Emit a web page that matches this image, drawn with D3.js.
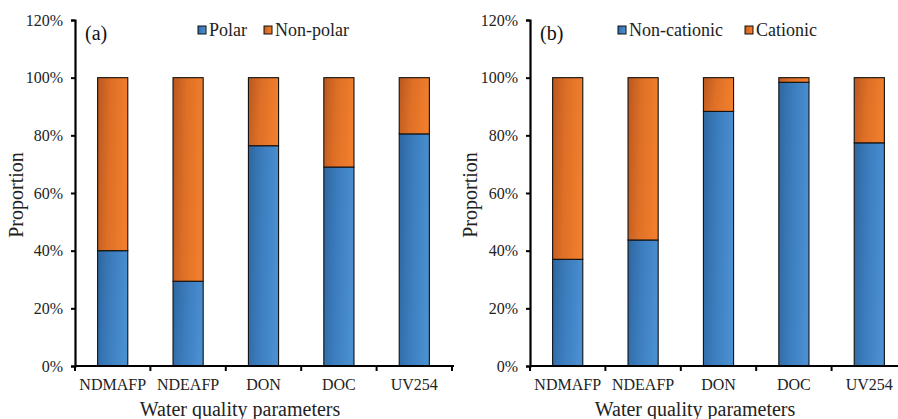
<!DOCTYPE html>
<html>
<head>
<meta charset="utf-8">
<script src="https://cdn.jsdelivr.net/npm/d3@7"></script>
<style>
  html, body { margin: 0; padding: 0; background: #fff; overflow: hidden; }
  svg text { font-family: 'Liberation Serif', 'Times New Roman', Times, 'DejaVu Serif', serif; }
</style>
</head>
<body>
<svg id="chart" width="898" height="419"></svg>
<script>
// Categories shared by both panels
const categories = ["NDMAFP", "NDEAFP", "DON", "DOC", "UV254"];

// Panel (a): polar fraction (non-polar is the remainder to 100%)
const polar = [0.40, 0.294, 0.764, 0.69, 0.805];
// Panel (b): non-cationic fraction (cationic is the remainder)
const nonCationic = [0.37, 0.437, 0.883, 0.984, 0.774];

const yTicks = [0, 0.2, 0.4, 0.6, 0.8, 1.0, 1.2];

const panels = [
  { tag: "(a)", left: 75, series: ["Polar", "Non-polar"], values: polar,
    legendX: [198, 264], titleX: 15.5 },
  { tag: "(b)", left: 530, series: ["Non-cationic", "Cationic"], values: nonCationic,
    legendX: [618, 745], titleX: 470 }
];

const svg = d3.select("#chart");
const defs = svg.append("defs");

function gradient(id, c0, c1, c2) {
  const g = defs.append("linearGradient").attr("id", id)
    .attr("x1", 0).attr("y1", 0).attr("x2", 1).attr("y2", 0.15);
  g.append("stop").attr("offset", 0).attr("stop-color", c0);
  g.append("stop").attr("offset", 0.45).attr("stop-color", c1);
  g.append("stop").attr("offset", 1).attr("stop-color", c2);
}
gradient("gBlue", "#2e669f", "#3b7cbd", "#4a8fd0");
gradient("gOrange", "#b9581f", "#de6f26", "#f07e2c");
const fills = ["url(#gBlue)", "url(#gOrange)"];

const plotW = 377, plotTop = 20, plotBottom = 366;
const y = d3.scaleLinear().domain([0, 1.2]).range([plotBottom, plotTop]);

panels.forEach(p => {
  const g = svg.append("g").attr("transform", `translate(${p.left},0)`);
  const x = d3.scaleBand().domain(categories).range([0, plotW])
    .paddingInner(0.6).paddingOuter(0.3);
  const step = x.step();

  // stacked data
  const rows = categories.map((c, i) => ({ cat: c, a: p.values[i], b: 1 - p.values[i] }));
  const stack = d3.stack().keys(["a", "b"])(rows);

  stack.forEach((layer, li) => {
    g.selectAll(null).data(layer).enter().append("rect")
      .attr("x", d => x(d.data.cat))
      .attr("width", x.bandwidth())
      .attr("y", d => y(d[1]))
      .attr("height", d => y(d[0]) - y(d[1]))
      .attr("fill", fills[li])
      .attr("stroke", "#111")
      .attr("stroke-width", 1.1);
  });

  // y axis
  const yAxis = d3.axisLeft(y).tickValues(yTicks).tickFormat(d3.format(".0%"))
    .tickSize(4).tickPadding(8);
  const ya = g.append("g").call(yAxis);
  ya.select(".domain").attr("stroke", "#000").attr("stroke-width", 2.2);
  ya.selectAll(".tick line").attr("stroke", "#000").attr("stroke-width", 2);
  ya.selectAll(".tick text").attr("font-size", 16).attr("fill", "#222");

  // x axis line with boundary ticks
  g.append("line").attr("x1", 0).attr("x2", plotW + 2)
    .attr("y1", plotBottom).attr("y2", plotBottom)
    .attr("stroke", "#000").attr("stroke-width", 2.2);
  const bounds = d3.range(categories.length + 1).map(i => i * step);
  g.selectAll(null).data(bounds).enter().append("line")
    .attr("x1", d => d).attr("x2", d => d)
    .attr("y1", plotBottom).attr("y2", plotBottom + 5)
    .attr("stroke", "#000").attr("stroke-width", 2);
  g.selectAll(null).data(categories).enter().append("text")
    .attr("x", d => x(d) + x.bandwidth() / 2)
    .attr("y", 390)
    .attr("text-anchor", "middle")
    .attr("font-size", 16).attr("fill", "#222")
    .text(d => d);

  // axis titles
  g.append("text").attr("x", 165).attr("y", 416)
    .attr("text-anchor", "middle").attr("font-size", 20).attr("fill", "#222")
    .text("Water quality parameters");
  g.append("text")
    .attr("transform", `translate(${p.titleX - p.left + 7},195) rotate(-90)`)
    .attr("text-anchor", "middle").attr("font-size", 20).attr("fill", "#222")
    .text("Proportion");

  // panel tag
  g.append("text").attr("x", 10).attr("y", 40)
    .attr("font-size", 20).attr("fill", "#111").text(p.tag);

  // legend
  p.series.forEach((s, i) => {
    const lx = p.legendX[i] - p.left;
    g.append("rect").attr("x", lx).attr("y", 26).attr("width", 8).attr("height", 8)
      .attr("fill", fills[i]).attr("stroke", "#111").attr("stroke-width", 1);
    g.append("text").attr("x", lx + 11).attr("y", 36)
      .attr("font-size", 18).attr("fill", "#222").text(s);
  });
});
</script>
</body>
</html>
